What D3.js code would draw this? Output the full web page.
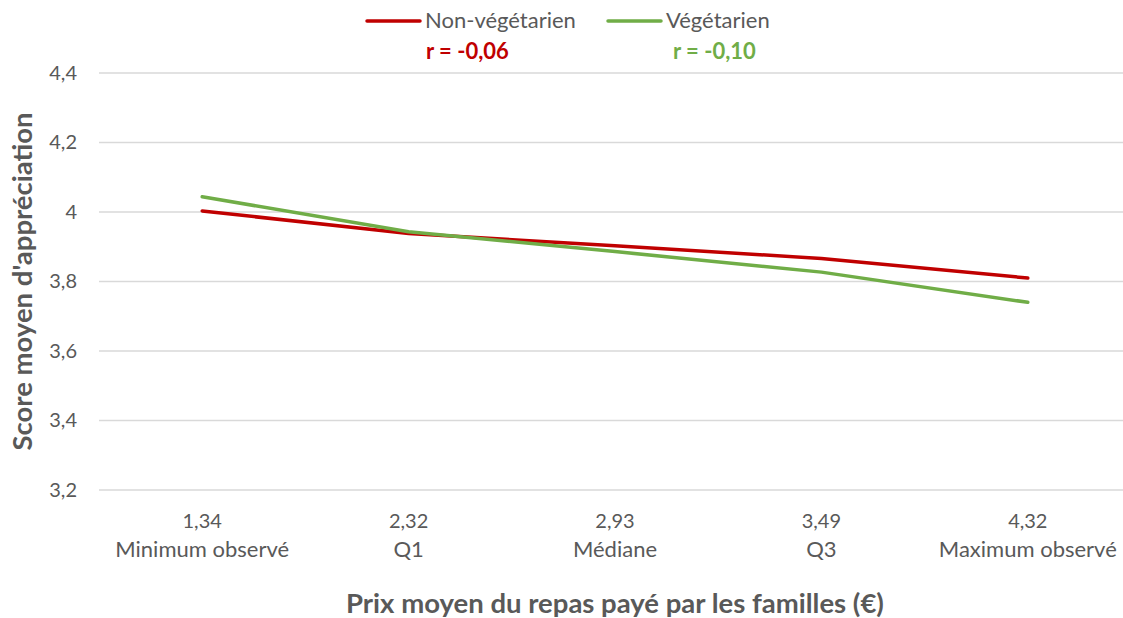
<!DOCTYPE html>
<html>
<head>
<meta charset="utf-8">
<script src="https://cdn.jsdelivr.net/npm/d3@7"></script>
<style>
  body { margin: 0; background: #fff; }
  text { font-family: Lato, "Open Sans", sans-serif; fill: #595959; }
</style>
</head>
<body>
<svg></svg>
<script>
const width = 1123;
const height = 618;
const margin = { top: 73, right: -8, bottom: 128, left: 99 };

// data
const prices = ['1,34', '2,32', '2,93', '3,49', '4,32'];
const categories = ['Minimum observé', 'Q1', 'Médiane', 'Q3', 'Maximum observé'];
const nonVeg = [4.003, 3.938, 3.903, 3.866, 3.81];
const veg = [4.044, 3.943, 3.886, 3.827, 3.74];
const yTicks = [3.2, 3.4, 3.6, 3.8, 4, 4.2, 4.4];
const seriesNames = ['Non-végétarien', 'Végétarien'];
const rValues = ['r = -0,06', 'r = -0,10'];
const colors = ['#C00000', '#70AD47'];

const svg = d3.select('svg')
  .attr('width', width)
  .attr('height', height);

const xScale = d3.scaleBand()
  .domain(d3.range(prices.length))
  .range([margin.left, width - margin.right]);

const yScale = d3.scaleLinear()
  .domain([3.2, 4.4])
  .range([height - margin.bottom, margin.top]);

const fmt = d => String(d).replace('.', ',');

// gridlines
svg.append('g')
  .selectAll('line')
  .data(yTicks)
  .join('line')
  .attr('x1', margin.left)
  .attr('x2', width - margin.right)
  .attr('y1', d => yScale(d))
  .attr('y2', d => yScale(d))
  .attr('stroke', '#D9D9D9')
  .attr('stroke-width', 1.5);

// y axis
const yAxis = d3.axisLeft(yScale)
  .tickValues(yTicks)
  .tickFormat(fmt)
  .tickSize(0)
  .tickPadding(22);

svg.append('g')
  .classed('y-axis', true)
  .attr('transform', `translate(${margin.left}, 0)`)
  .call(yAxis)
  .call(g => g.select('.domain').remove())
  .selectAll('text')
  .style('font-size', '20px')
  .attr('fill', '#595959');

// x labels
const xLabels = svg.append('g')
  .selectAll('text')
  .data(prices)
  .join('text')
  .attr('text-anchor', 'middle')
  .attr('x', (d, i) => xScale(i) + xScale.bandwidth() / 2);

xLabels.append('tspan')
  .attr('x', (d, i) => xScale(i) + xScale.bandwidth() / 2)
  .attr('y', 528)
  .style('font-size', '20px')
  .text(d => d);

xLabels.append('tspan')
  .attr('x', (d, i) => xScale(i) + xScale.bandwidth() / 2)
  .attr('y', 557)
  .style('font-size', '22px')
  .text((d, i) => categories[i]);

// axis titles
svg.append('text')
  .attr('x', (margin.left + width - margin.right) / 2)
  .attr('y', 613)
  .attr('text-anchor', 'middle')
  .style('font-size', '27.5px')
  .style('font-weight', 'bold')
  .text('Prix moyen du repas payé par les familles (€)');

svg.append('text')
  .attr('transform', `translate(32, ${(yScale(3.2) + yScale(4.4)) / 2}) rotate(-90)`)
  .attr('text-anchor', 'middle')
  .style('font-size', '27.5px')
  .style('font-weight', 'bold')
  .text("Score moyen d'appréciation");

// lines
const line = d3.line()
  .x((d, i) => xScale(i) + xScale.bandwidth() / 2)
  .y(d => yScale(d));

[nonVeg, veg].forEach((series, k) => {
  svg.append('path')
    .datum(series)
    .attr('fill', 'none')
    .attr('stroke', colors[k])
    .attr('stroke-width', 3.5)
    .attr('stroke-linecap', 'round')
    .attr('stroke-linejoin', 'round')
    .attr('d', line);
});

// legend
const legendX = [367, 608];
seriesNames.forEach((name, k) => {
  const g = svg.append('g').attr('transform', `translate(${legendX[k]}, 21)`);
  g.append('line')
    .attr('x1', 0).attr('x2', 53)
    .attr('stroke', colors[k])
    .attr('stroke-width', 3.5)
    .attr('stroke-linecap', 'round');
  g.append('text')
    .attr('x', 58)
    .attr('y', 7)
    .style('font-size', '22px')
    .text(name);
  g.append('text')
    .attr('x', k === 0 ? 59 : 65)
    .attr('y', 38)
    .style('font-size', '22px')
    .style('font-weight', 'bold')
    .style('fill', colors[k])
    .text(rValues[k]);
});
</script>
</body>
</html>
